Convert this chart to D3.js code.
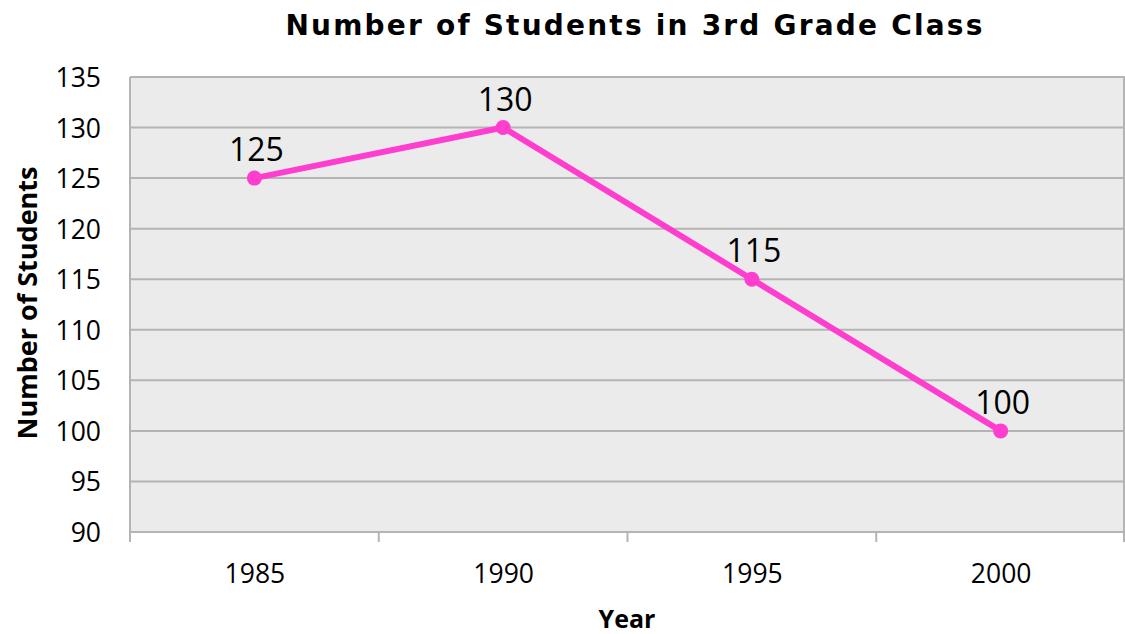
<!DOCTYPE html>
<html><head><meta charset="utf-8">
<script src="https://cdn.jsdelivr.net/npm/d3@7"></script>
<style>body{margin:0;background:#fff}svg{display:block}</style>
</head><body>
<svg id="c" width="1125" height="634"></svg>
<script>
const years = ["1985","1990","1995","2000"];
const students = [125,130,115,100];
const yTicks = [90,95,100,105,110,115,120,125,130,135];
const titleText = "Number of Students in 3rd Grade Class";
const xTitle = "Year";
const yTitle = "Number of Students";

const svg = d3.select("#c");
const L=130, R=1125, T=77, B=532;
const x = d3.scalePoint().domain(years).range([L,R]).padding(0.5);
const xb = d3.scaleBand().domain(years).range([L,R]);
const y = d3.scaleLinear().domain([90,135]).range([B,T]);
const fontN = "'Open Sans', sans-serif";

svg.append("rect").attr("x",L).attr("y",T).attr("width",R-L).attr("height",B-T).attr("fill","#ebebeb");
svg.append("g").selectAll("line").data(yTicks).join("line")
  .attr("x1",L).attr("x2",R).attr("y1",d=>y(d)).attr("y2",d=>y(d))
  .attr("stroke","#b4b4b4").attr("stroke-width",2);
svg.append("line").attr("x1",R-1).attr("x2",R-1).attr("y1",T).attr("y2",B).attr("stroke","#b4b4b4").attr("stroke-width",2);

// y axis
const ya = svg.append("g").attr("transform",`translate(${L},0)`)
  .call(d3.axisLeft(y).tickValues(yTicks).tickSize(0).tickPadding(29));
ya.select(".domain").attr("stroke","#b4b4b4").attr("stroke-width",2).attr("d",`M0,${T}V${B+10}`);
ya.selectAll("text").attr("font-family",fontN).attr("font-size",26.5).attr("fill","#000").attr("dy","0.36em");

// x axis
const xa = svg.append("g").attr("transform",`translate(0,${B})`)
  .call(d3.axisBottom(x).tickSize(0).tickPadding(32));
xa.select(".domain").remove();
xa.selectAll("text").attr("font-family",fontN).attr("font-size",26.5).attr("fill","#000");
const edges = years.map(d=>xb(d)).concat([R-1]);
svg.append("g").selectAll("line").data(edges).join("line")
  .attr("x1",d=>d).attr("x2",d=>d).attr("y1",B).attr("y2",B+10)
  .attr("stroke","#b4b4b4").attr("stroke-width",2);

// line
const pts = years.map((d,i)=>[d,students[i]]);
svg.append("path").datum(pts)
  .attr("d",d3.line().x(d=>x(d[0])).y(d=>y(d[1])))
  .attr("fill","none").attr("stroke","#ff3dcf").attr("stroke-width",6).attr("stroke-linejoin","round");
svg.append("g").selectAll("circle").data(pts).join("circle")
  .attr("cx",d=>x(d[0])).attr("cy",d=>y(d[1])).attr("r",7.5).attr("fill","#ff3dcf");
svg.append("g").selectAll("text").data(pts).join("text")
  .attr("x",d=>x(d[0])+2).attr("y",d=>y(d[1])-17)
  .attr("text-anchor","middle").attr("font-family",fontN).attr("font-size",32).attr("fill","#000")
  .text(d=>d[1]);

// titles
svg.append("text").attr("x",635).attr("y",35).attr("text-anchor","middle")
  .attr("font-family","'DejaVu Sans', sans-serif").attr("font-weight","bold").attr("font-size",28)
  .attr("letter-spacing",2.2).attr("fill","#000").text(titleText);
svg.append("text").attr("x",627).attr("y",628).attr("text-anchor","middle")
  .attr("font-family",fontN).attr("font-weight","bold").attr("font-size",25).attr("fill","#000").text(xTitle);
svg.append("text").attr("transform","translate(37,303) rotate(-90)").attr("text-anchor","middle")
  .attr("font-family",fontN).attr("font-weight","bold").attr("font-size",27).attr("fill","#000").text(yTitle);
</script>
</body></html>
